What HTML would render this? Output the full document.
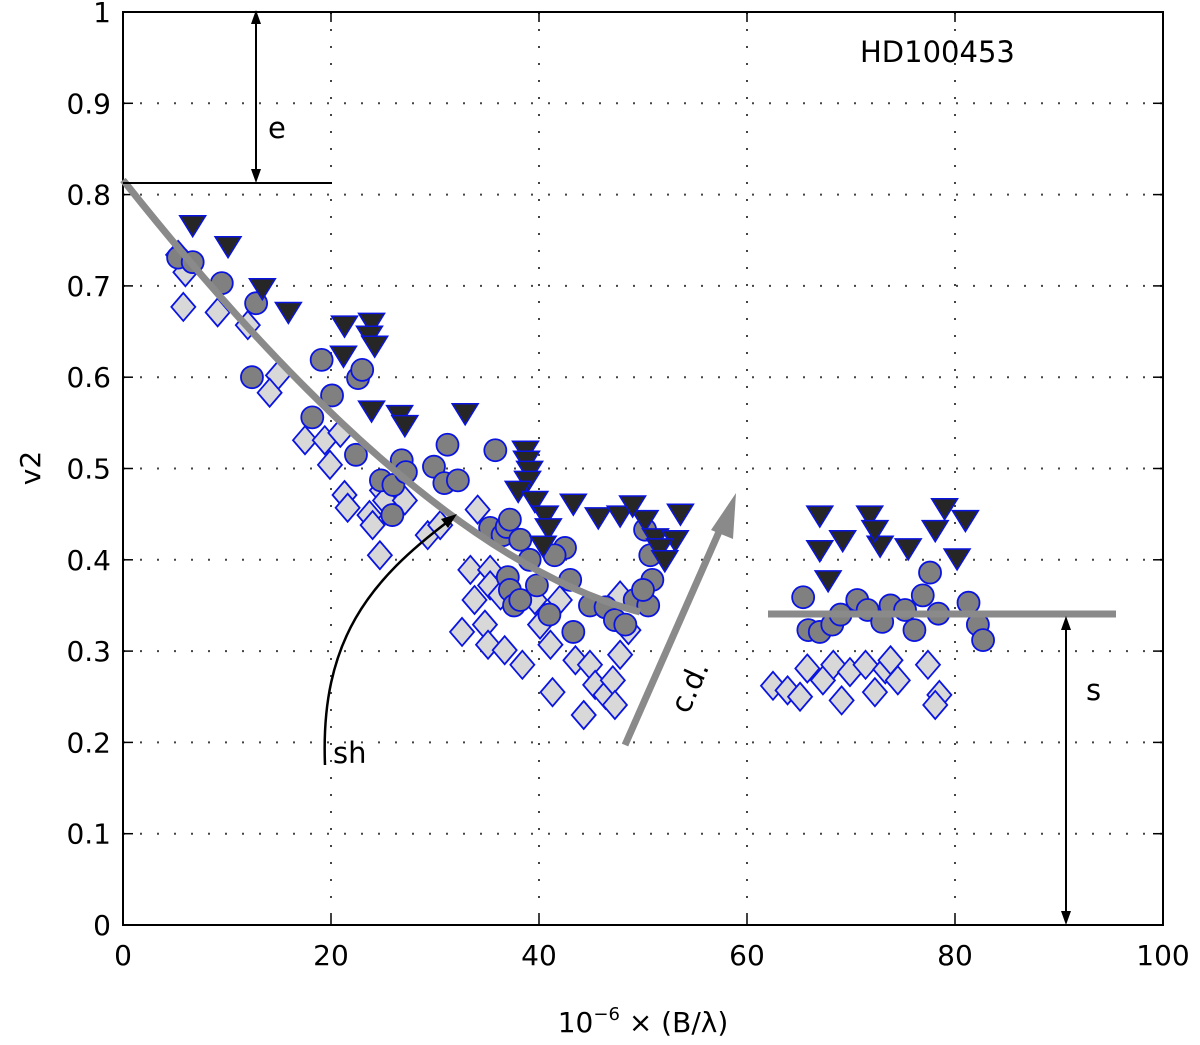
<!DOCTYPE html>
<html><head><meta charset="utf-8"><style>
body{margin:0;background:#fff;}
svg{display:block;font-family:"Liberation Sans",sans-serif;}
</style></head><body>
<svg id="chart" width="1200" height="1045" viewBox="0 0 1200 1045">
<g id="grid"></g>
<g id="marks"></g>
<g id="axes"></g>
<g id="annot">
<path d="M123,180 Q420,555 640,612" stroke="#8a8a8a" stroke-width="7" fill="none"/>
<line x1="768" y1="614" x2="1116" y2="614" stroke="#8a8a8a" stroke-width="7"/>
<line x1="625" y1="745" x2="722" y2="525" stroke="#8a8a8a" stroke-width="7"/>
<polygon points="736,493 711,530 733,539" fill="#8a8a8a"/>
<text x="0" y="0" font-size="29" font-family="DejaVu Sans" transform="translate(688,715) rotate(-66)">c.d.</text>
<line x1="123" y1="183" x2="332" y2="183" stroke="#000" stroke-width="2"/>
<line x1="256" y1="22" x2="256" y2="172" stroke="#000" stroke-width="2"/>
<path d="M256,10 L251,24 L261,24 z M256,183 L251,169 L261,169 z" fill="#000"/>
<text x="268" y="138" font-size="29" font-family="DejaVu Sans">e</text>
<line x1="1066" y1="628" x2="1066" y2="912" stroke="#000" stroke-width="2"/>
<path d="M1066,616 L1061,630 L1071,630 z M1066,925 L1061,911 L1071,911 z" fill="#000"/>
<text x="1086" y="700" font-size="29" font-family="DejaVu Sans">s</text>
<path d="M325,765 C320,640 370,580 450,520" stroke="#000" stroke-width="2.5" fill="none"/>
<path d="M457,514 L441,519 L448,528 z" fill="#000"/>
<text x="333" y="763" font-size="29" font-family="DejaVu Sans">sh</text>
<text x="860" y="62" font-size="29" font-family="DejaVu Sans">HD100453</text>
</g>
</svg>
<script>
const xTicks=[0,20,40,60,80,100];
const yTicks=[0,0.1,0.2,0.3,0.4,0.5,0.6,0.7,0.8,0.9,1];
const yTickLabels=["0","0.1","0.2","0.3","0.4","0.5","0.6","0.7","0.8","0.9","1"];
const triX=[6.7,10.1,13.4,15.9,21.3,23.9,23.7,24.2,21.2,23.9,26.6,32.9,27.1,38.7,38.8,39.1,38.9,38.0,39.6,43.3,45.7,47.8,40.6,40.9,40.4,50.2,51.2,53.6,53.1,51.6,52.1,67.0,67.0,67.8,69.2,71.8,72.8,75.5,78.1,79.0,81.0,80.2,72.3,49.0];
const triY=[0.767,0.744,0.698,0.672,0.657,0.660,0.646,0.635,0.624,0.564,0.559,0.561,0.548,0.520,0.509,0.498,0.487,0.476,0.465,0.462,0.447,0.449,0.449,0.435,0.416,0.444,0.424,0.451,0.422,0.413,0.400,0.449,0.411,0.378,0.422,0.449,0.416,0.413,0.433,0.457,0.444,0.402,0.433,0.46];
const cirX=[5.3,6.7,9.5,12.8,12.4,19.1,18.2,20.1,22.6,23.0,22.4,24.8,26.0,25.9,26.8,27.2,29.9,30.9,31.2,32.2,35.8,35.3,36.5,36.9,37.2,38.2,39.1,37.0,37.2,37.6,38.2,39.8,41.0,42.5,41.5,43.0,43.3,44.9,46.4,47.3,48.3,49.2,50.2,50.7,50.9,50.5,50.0,65.4,65.9,67.0,68.2,69.0,70.6,71.6,73.0,73.8,75.2,76.1,76.9,77.6,78.4,81.3,82.2,82.7];
const cirY=[0.731,0.726,0.703,0.681,0.600,0.619,0.556,0.580,0.599,0.608,0.515,0.487,0.482,0.449,0.509,0.496,0.502,0.484,0.526,0.487,0.520,0.435,0.427,0.436,0.444,0.422,0.400,0.381,0.367,0.350,0.356,0.372,0.340,0.413,0.405,0.378,0.321,0.350,0.348,0.334,0.329,0.356,0.433,0.405,0.378,0.350,0.367,0.359,0.323,0.321,0.329,0.340,0.356,0.345,0.332,0.350,0.345,0.323,0.361,0.386,0.341,0.353,0.329,0.312];
const diaX=[5.3,6.0,5.8,9.1,12.0,14.9,14.1,17.5,19.4,19.9,20.9,21.3,21.6,23.7,24.9,25.2,24.0,24.7,27.1,29.3,30.5,34.1,33.4,32.6,34.8,35.3,35.3,35.1,36.7,38.4,33.8,36.3,39.6,40.1,42.0,43.5,44.9,45.4,46.4,44.3,47.1,47.8,48.6,41.3,41.1,47.8,47.3,62.5,63.9,65.1,65.8,67.3,68.3,69.9,71.4,72.3,73.3,73.8,74.5,77.4,78.5,78.1,69.1];
const diaY=[0.734,0.715,0.677,0.671,0.657,0.602,0.583,0.531,0.531,0.504,0.539,0.471,0.457,0.449,0.476,0.465,0.438,0.405,0.465,0.427,0.438,0.455,0.389,0.321,0.329,0.389,0.372,0.307,0.301,0.285,0.356,0.361,0.356,0.329,0.356,0.290,0.285,0.263,0.252,0.230,0.268,0.296,0.323,0.255,0.307,0.361,0.241,0.262,0.257,0.250,0.281,0.268,0.285,0.277,0.285,0.255,0.280,0.290,0.268,0.285,0.252,0.241,0.246];

const X0=123,X1=1163,Y0=925,Y1=12;
const sx=v=>X0+(v-0)/(100-0)*(X1-X0);
const sy=v=>Y0-(v-0)/(1-0)*(Y0-Y1);
const NS="http://www.w3.org/2000/svg";
function mk(tag,attrs,parent){const e=document.createElementNS(NS,tag);for(const k in attrs)e.setAttribute(k,attrs[k]);parent.appendChild(e);return e;}
const grid=document.getElementById('grid'),marks=document.getElementById('marks'),axes=document.getElementById('axes');
xTicks.forEach((t,i)=>{
 if(t>0&&t<100){const l=mk('line',{x1:sx(t),x2:sx(t),y1:Y1,y2:Y0,stroke:'#444','stroke-width':2,'stroke-dasharray':'2,15'},grid);
 
 }
 const tk=mk('line',{x1:sx(t),x2:sx(t),y1:Y0,y2:Y0-10,stroke:'#000','stroke-width':1.5},axes);
 
 
 const tk2=mk('line',{x1:sx(t),x2:sx(t),y1:Y1,y2:Y1+10,stroke:'#000','stroke-width':1.5},axes);
 
 
 const tx=mk('text',{x:sx(t),y:Y0+40,'font-size':28,'font-family':'DejaVu Sans','text-anchor':'middle'},axes);tx.textContent=String(t);
 
 
});
yTicks.forEach((t,i)=>{
 if(t>0&&t<1){const l=mk('line',{x1:X0,x2:X1,y1:sy(t),y2:sy(t),stroke:'#444','stroke-width':2,'stroke-dasharray':'2,15'},grid);
 
 }
 const tk=mk('line',{x1:X0,x2:X0+10,y1:sy(t),y2:sy(t),stroke:'#000','stroke-width':1.5},axes);
 
 
 const tk2=mk('line',{x1:X1,x2:X1-10,y1:sy(t),y2:sy(t),stroke:'#000','stroke-width':1.5},axes);
 
 
 const tx=mk('text',{x:X0-12,y:sy(t)+10,'font-size':28,'font-family':'DejaVu Sans','text-anchor':'end'},axes);tx.textContent=yTickLabels[i];
 
 
});
const box=mk('rect',{x:X0,y:Y1,width:X1-X0,height:Y0-Y1,fill:'none',stroke:'#000','stroke-width':2},axes);


const yl=mk('text',{x:0,y:0,'font-size':28,'font-family':'DejaVu Sans','text-anchor':'middle',transform:'translate(40,468) rotate(-90)'},axes);yl.textContent='v2';


const xl=mk('text',{x:643,y:1032,'font-size':28,'font-family':'DejaVu Sans','text-anchor':'middle'},axes);
xl.innerHTML='10<tspan dy="-12" font-size="18">−6</tspan><tspan dy="12"> × (B/λ)</tspan>';


const BL='#0a14e0';
diaX.forEach((v,i)=>{const x=sx(v),y=sy(diaY[i]);
 const p=mk('polygon',{points:`${x},${y-14} ${x+12},${y} ${x},${y+14} ${x-12},${y}`,fill:'#d8d8d8',stroke:BL,'stroke-width':1.8},marks);
 
 });
cirX.forEach((v,i)=>{
 const c=mk('circle',{cx:sx(v),cy:sy(cirY[i]),r:11,fill:'#808080',stroke:BL,'stroke-width':1.8},marks);
 
 });
triX.forEach((v,i)=>{const x=sx(v),y=sy(triY[i]);
 const p=mk('polygon',{points:`${x-13},${y-9} ${x+13},${y-9} ${x},${y+12}`,fill:'#262626',stroke:BL,'stroke-width':1.5},marks);
 
 });
</script>
</body></html>
